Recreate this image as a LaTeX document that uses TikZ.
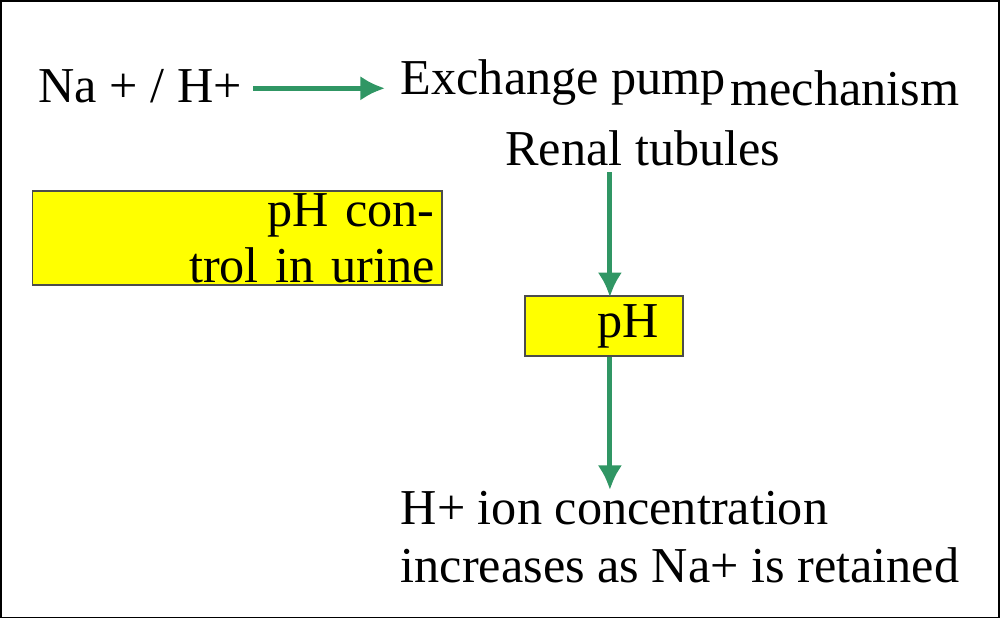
\documentclass[tikz,border=0pt]{standalone}
\usepackage{fontspec}
\setmainfont{Liberation Serif}
\usetikzlibrary{positioning}
\usetikzlibrary{arrows.meta}
\definecolor{arrowgreen}{RGB}{48,150,100}
\definecolor{boxyellow}{RGB}{255,255,0}
\tikzset{
  txt/.style={inner sep=0pt, font=\fontsize{14.3pt}{16pt}\selectfont},
  ybox/.style={draw=black!70, fill=boxyellow, inner sep=0pt, font=\fontsize{14.3pt}{16pt}\selectfont},
  garrow/.style={draw=arrowgreen, line width=1.4pt, -{Latex[length=7pt,width=7pt]}}
}
\begin{document}
\begin{tikzpicture}[x=0.01cm,y=-0.01cm]
\draw[black, line width=0.5pt] (0.5,0.5) rectangle (999.5,617.5);
\useasboundingbox (0,0) rectangle (1000,618);

% top line
\node[txt] (naH) at (140,86) {Na + / H+};
\node[txt, anchor=west] (pump) at (400,82) {Exchange pump};
\node[txt, anchor=west] (mech) at (730,88) {mechanism};
\node[txt] (renal) at (643,148) {Renal tubules};
\coordinate (pumpin) at (385,88);

% boxes
\node[ybox, minimum width=4.1cm, minimum height=0.94cm, text width=3.95cm, align=right] (ctrl) at (237,238) {pH control in urine};
\node[ybox, minimum width=1.58cm, minimum height=0.6cm, text width=1.1cm, align=right] (ph) at (604,326) {pH};

% result
\node[txt, anchor=west] (res1) at (400,508) {H+ ion concentration};
\node[txt, anchor=west] (res2) at (400,565) {increases as Na+ is retained};

% arrows
\draw[garrow] (253,88) -- (pumpin);
\draw[garrow] (610,172) -- (610,297);
\draw[garrow] (610,357) -- (610,490);
\end{tikzpicture}
\end{document}
